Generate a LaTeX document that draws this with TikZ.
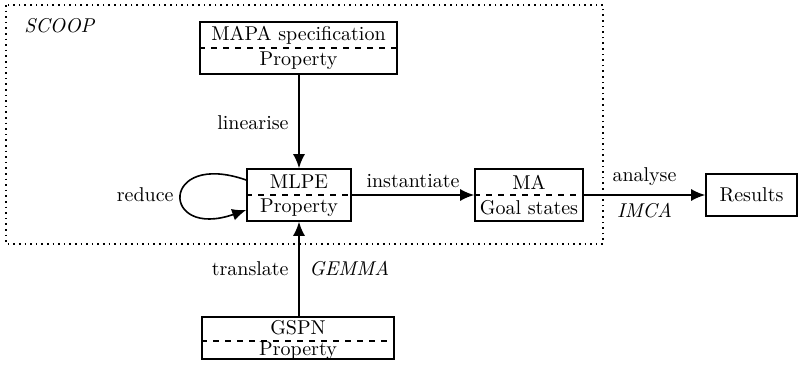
\documentclass[tikz,border=0pt]{standalone}
\usetikzlibrary{arrows.meta,calc}
\begin{document}
\begin{tikzpicture}[x=0.5pt,y=-0.5pt,
  box/.style={draw,thick,rectangle,inner sep=0pt},
  split/.style={thick,dashed},
  arr/.style={thick,-{Latex[length=7pt,width=6pt]}},
  lbl/.style={inner sep=2pt}]
\useasboundingbox (0,0) rectangle (804,370);
% SCOOP region
\draw[thick,dotted] (6,5) rectangle (603,244);
\node[lbl,anchor=west] (scoop) at (20,26) {\itshape SCOOP};
% MAPA
\node[box,minimum width=98.5pt,minimum height=26pt] (mapa) at (298.5,48) {};
\draw[split] (mapa.west) -- (mapa.east);
\node[lbl] (mapat) at (298.5,35) {MAPA specification};
\node[lbl] (mapab) at (298.5,61) {Property};
% MLPE
\node[box,minimum width=52pt,minimum height=26pt] (mlpe) at (299,195) {};
\draw[split] (mlpe.west) -- (mlpe.east);
\node[lbl] (mlpet) at (299,182) {MLPE};
\node[lbl] (mlpeb) at (299,208) {Property};
% MA
\node[box,minimum width=54pt,minimum height=26pt] (ma) at (529,195) {};
\draw[split] (ma.west) -- (ma.east);
\node[lbl] (mat) at (529,182) {MA};
\node[lbl] (mab) at (529,208) {Goal states};
% Results
\node[box,minimum width=45.5pt,minimum height=21pt] (res) at (751.5,195) {Results};
% GSPN
\node[box,minimum width=96pt,minimum height=21pt] (gspn) at (298,338) {};
\draw[split] ([yshift=-1.5pt]gspn.west) -- ([yshift=-1.5pt]gspn.east);
\node[lbl] (gspnt) at (298,328) {GSPN};
\node[lbl] (gspnb) at (298,351) {Property};
% arrows
\draw[arr] (mapa.south -| mlpe.north) -- (mlpe.north);
\node[lbl,anchor=east] (lin) at (293,123) {linearise};
\draw[arr] (mlpe.east) -- (ma.west);
\node[lbl] (inst) at (413,181) {instantiate};
\draw[arr] (ma.east) -- (res.west);
\node[lbl] (ana) at (644.5,177) {analyse};
\node[lbl] (imca) at (644.5,211) {\itshape IMCA};
\draw[arr] (gspn.north -| mlpe.south) -- (mlpe.south);
\node[lbl,anchor=east] (tr) at (293,269) {translate};
\node[lbl,anchor=west] (gem) at (305,269) {\itshape GEMMA};
% reduce loop
\coordinate (ls) at ([yshift=7.5pt]mlpe.west);
\coordinate (le) at ([yshift=-7.5pt]mlpe.west);
\draw[arr] (ls) .. controls (160,150) and (160,240) .. (le);
\node[lbl,anchor=east] (red) at (178,195) {reduce};
\end{tikzpicture}
\end{document}
